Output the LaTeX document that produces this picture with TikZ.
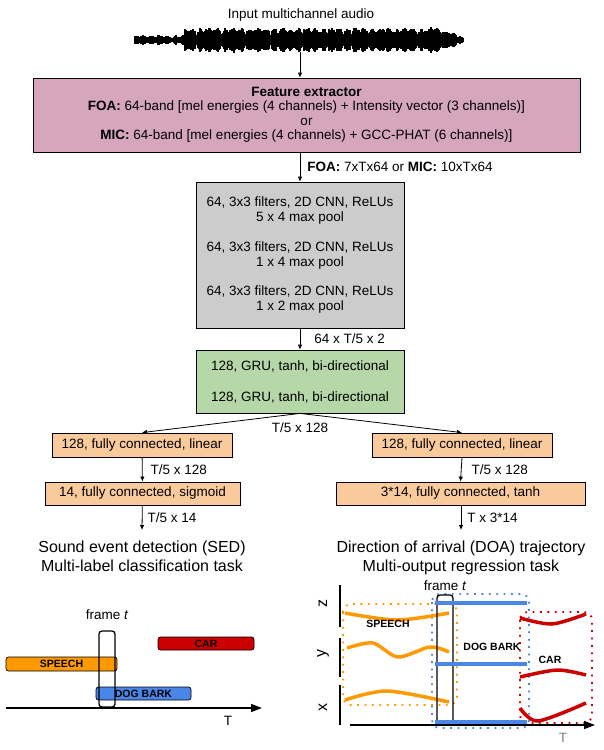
\documentclass[tikz,border=0pt]{standalone}
\usepackage{fontspec}
\setmainfont{Liberation Sans}
\usetikzlibrary{positioning,arrows.meta}

\definecolor{featpink}{HTML}{D5A6BD}
\definecolor{cnngray}{HTML}{CCCCCC}
\definecolor{grugreen}{HTML}{B6D7A8}
\definecolor{fcorange}{HTML}{F9CB9C}
\definecolor{carred}{HTML}{CC0000}
\definecolor{speechorange}{HTML}{FF9900}
\definecolor{dogblue}{HTML}{4A86E8}

\begin{document}
\begin{tikzpicture}[
        x=1pt, y=-1pt,
        font=\fontsize{13.5}{15}\selectfont,
        block/.style={draw, line width=0.8pt, align=center, inner sep=0pt},
        arrow/.style={draw, line width=0.8pt, -{Latex[length=5pt,width=4.5pt]}},
        lbl/.style={inner sep=0pt, anchor=west},
        task/.style={font=\fontsize{16}{19}\selectfont, align=center, anchor=north, inner sep=0pt},
        bar/.style={draw, line width=0.7pt, rounded corners=2.5pt, inner sep=0pt, font=\fontsize{10.5}{12}\selectfont\bfseries},
        framebox/.style={draw, line width=1.3pt, rounded corners=3pt, inner sep=0pt, minimum width=16pt},
        traj/.style={line width=3.5pt},
        region/.style={line width=1.8pt, dash pattern=on 1.8pt off 5.6pt, rounded corners=8pt},
        axis/.style={line width=1.5pt, -{Triangle[length=11pt,width=8pt]}},
        axlbl/.style={rotate=90, inner sep=0pt, font=\fontsize{16}{19}\selectfont}
    ]
    \useasboundingbox (0,0) rectangle (603,750);

    % Input signal
    \node (input) at (301,15) {Input multichannel audio};
    \pgfmathsetseed{42}
    \foreach \x in {135,...,463}{
        \pgfmathsetmacro{\env}{\x<185 ? 4.5 : (\x<440 ? 11.5 : 11.5-(\x-440)*0.38)}
        \pgfmathsetmacro{\amp}{\env*(0.3+0.35*abs(sin(\x*22))+0.2*abs(sin(\x*7.3))+0.3*rnd)}
        \draw[line width=1.2pt] (\x,40-\amp) -- (\x,40+\amp);
    }
    \coordinate (wave) at (300,52);

    % Feature extraction
    \node[block, fill=featpink, minimum width=547pt, minimum height=74pt,
          font=\fontsize{13.5}{14.5}\selectfont] (feat) at (306.5,115)
        {\textbf{Feature extractor}\\
         \textbf{FOA:} 64-band [mel energies (4 channels) + Intensity vector (3 channels)]\\
         or\\
         \textbf{MIC:} 64-band [mel energies (4 channels) + GCC-PHAT (6 channels)]};
    \draw[arrow] (wave) -- (wave |- feat.north);

    % CNN layers
    \node[block, fill=cnngray, minimum width=208pt, minimum height=146pt] (cnn) at (300,255)
        {64, 3x3 filters, 2D CNN, ReLUs\\5 x 4 max pool\\[15pt]
         64, 3x3 filters, 2D CNN, ReLUs\\1 x 4 max pool\\[14pt]
         64, 3x3 filters, 2D CNN, ReLUs\\1 x 2 max pool};
    \draw[arrow] (feat.south -| cnn) -- (cnn)
        node[midway, lbl, xshift=7pt] {\textbf{FOA:} 7xTx64 or \textbf{MIC:} 10xTx64};

    % Recurrent layers
    \node[block, fill=grugreen, minimum width=208pt, minimum height=63pt] (gru) at (300,381.5)
        {128, GRU, tanh, bi-directional\\[16pt]128, GRU, tanh, bi-directional};
    \draw[arrow] (cnn) -- (gru) node[midway, lbl, xshift=14pt] {64 x T/5 x 2};
    \node (gruout) at (300,428) {T/5 x 128};

    % SED branch
    \node[block, fill=fcorange, minimum width=180pt, minimum height=24pt] (sedfc1) at (142,445) {128, fully connected, linear};
    \node[block, fill=fcorange, minimum width=195pt, minimum height=23pt] (sedfc2) at (142.5,493.5) {14, fully connected, sigmoid};
    \coordinate (sedout) at (142,530);
    \node[task] (sed) at (142,541) {Sound event detection (SED)\\Multi-label classification task};
    \draw[arrow] (gru.south) -- (sedfc1.north);
    \draw[arrow] (sedfc1) -- (sedfc2) node[midway, lbl, xshift=8pt] {T/5 x 128};
    \draw[arrow] (sedfc2) -- (sedout) node[midway, lbl, xshift=5pt] {T/5 x 14};

    % DOA branch
    \node[block, fill=fcorange, minimum width=180pt, minimum height=24pt] (doafc1) at (462,445) {128, fully connected, linear};
    \node[block, fill=fcorange, minimum width=249pt, minimum height=23pt] (doafc2) at (460.5,493.5) {3*14, fully connected, tanh};
    \coordinate (doaout) at (461,530);
    \node[task] (doa) at (461,541) {Direction of arrival (DOA) trajectory\\Multi-output regression task};
    \draw[arrow] (gru.south) -- (doafc1.north);
    \draw[arrow] (doafc1.south) -- (doafc2.north) node[midway, lbl, xshift=10pt] {T/5 x 128};
    \draw[arrow] (doafc2.south -| doaout) -- (doaout) node[midway, lbl, xshift=6pt] {T x 3*14};

    % SED output example
    \node[bar, fill=carred, minimum width=96pt, minimum height=13pt] (car) at (206,643.5) {CAR};
    \node[bar, fill=speechorange, minimum width=111pt, minimum height=14pt] (speech) at (61.5,664) {SPEECH};
    \node[bar, fill=dogblue, minimum width=95pt, minimum height=13pt] (dog) at (143.5,693.5) {DOG BARK};
    \node[framebox, minimum height=76pt] (frameL) at (107,669) {};
    \node[above=11pt of frameL, inner sep=0pt] (frameLlbl) {frame \textit{t}};
    \coordinate (sedT0) at (6,708);
    \coordinate (sedT1) at (262,708);
    \draw[axis] (sedT0) -- (sedT1);
    \node (sedT) at (228,721) {T};

    % DOA output example
    \node[axlbl] (zlab) at (323,603) {z};
    \node[axlbl] (ylab) at (323,653) {y};
    \node[axlbl] (xlab) at (323,707) {x};
    \draw[line width=1.5pt] (340,585) -- (340,627);
    \draw[line width=1.5pt] (340,638) -- (340,677);
    \draw[line width=1.5pt] (340,685) -- (340,725);

    \draw[region, speechorange] (343,604) rectangle (457,705);
    \draw[region, dogblue] (432,594) rectangle (529,728);
    \draw[region, carred] (520,612) rectangle (592,723);

    \draw[traj, speechorange] plot[smooth] coordinates {(345,613) (397,620) (449,613)};
    \draw[traj, speechorange] plot[smooth] coordinates {(347,648) (373,643) (398,657) (430,647) (449,652)};
    \draw[traj, speechorange] plot[smooth] coordinates {(345,700) (387,691) (449,702)};
    \draw[traj, carred] plot[smooth] coordinates {(520,618) (552,624) (586,614)};
    \draw[traj, carred] plot[smooth] coordinates {(520,677) (557,670) (586,675)};
    \draw[traj, carred] plot[smooth] coordinates {(520,708) (538,721) (586,703)};

    \node[framebox, minimum height=128pt] (frameR) at (445,659) {};
    \node[above=4pt of frameR, inner sep=0pt] (frameRlbl) {frame \textit{t}};
    \foreach \yy in {603,664,722}
        \draw[traj, dogblue] (435,\yy) -- (527,\yy);

    \node[font=\fontsize{10.5}{12}\selectfont\bfseries] (speechlbl) at (388,624) {SPEECH};
    \node[font=\fontsize{10.5}{12}\selectfont\bfseries] (doglbl) at (492,647) {DOG BARK};
    \node[font=\fontsize{10.5}{12}\selectfont\bfseries] (carlbl) at (550,660) {CAR};

    \coordinate (doaT0) at (350,725);
    \coordinate (doaT1) at (595,725);
    \node[text=gray] (doaT) at (563,738) {T};
    \draw[axis] (doaT0) -- (doaT1);
\end{tikzpicture}
\end{document}
